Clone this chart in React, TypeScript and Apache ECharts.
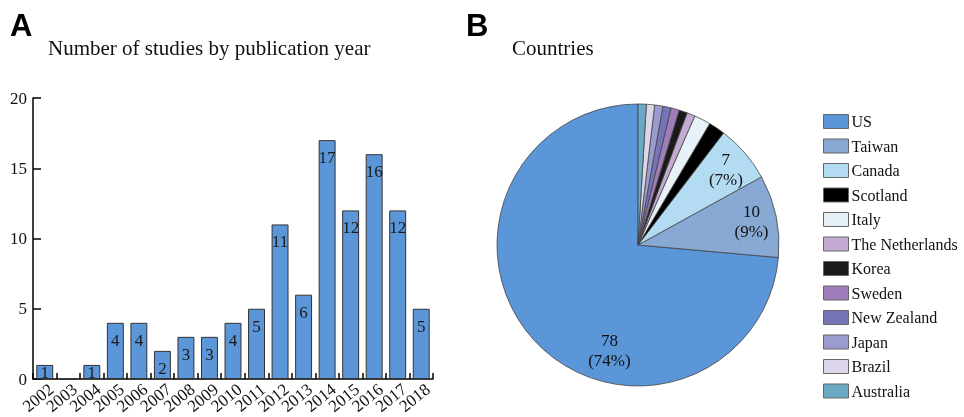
import React, { useEffect, useRef } from "react";
import * as echarts from "echarts";

const years = ["2002","2003","2004","2005","2006","2007","2008","2009","2010","2011","2012","2013","2014","2015","2016","2017","2018"];
const studies = [1,0,1,4,4,2,3,3,4,5,11,6,17,12,16,12,5];
const countries = ["US","Taiwan","Canada","Scotland","Italy","The Netherlands","Korea","Sweden","New Zealand","Japan","Brazil","Australia"];
const countryCounts = [78,10,7,2,2,1,1,1,1,1,1,1];
const countryColors = ["#5b96d8","#87a9d3","#b3dcf2","#000000","#e6f2f8","#c2aad3","#1a1a1a","#a07cba","#7474b6","#9b9bd0","#ddd5ea","#6aa8c4"];
const labelledCount = 3;

const SERIF = "'Liberation Serif', 'Times New Roman', serif";
const SANS = "'Liberation Sans', Arial, sans-serif";

export default function App() {
  const ref = useRef<HTMLDivElement>(null);
  useEffect(() => {
    if (!ref.current) return;
    const chart = echarts.init(ref.current, null, { renderer: "svg" });
    const total = countryCounts.reduce((a, b) => a + b, 0);
    const pieData = countries.map((n, i) => ({
      name: n,
      value: countryCounts[i],
      itemStyle: { color: countryColors[i] },
    }));
    const labelData = countries.map((n, i) => ({
      name: n,
      value: countryCounts[i],
      itemStyle: { color: "rgba(0,0,0,0)" },
      label: { show: i < labelledCount },
    }));
    chart.setOption({
      animation: false,
      title: [
        { text: "A", left: 5, top: 5, textStyle: { fontFamily: SANS, fontWeight: "bold", fontSize: 31, color: "#000" } },
        { text: "Number of studies by publication year", left: 43, top: 32, textStyle: { fontFamily: SERIF, fontWeight: "normal", fontSize: 21, color: "#111" } },
        { text: "B", left: 461, top: 5, textStyle: { fontFamily: SANS, fontWeight: "bold", fontSize: 31, color: "#000" } },
        { text: "Countries", left: 507, top: 32, textStyle: { fontFamily: SERIF, fontWeight: "normal", fontSize: 21, color: "#111" } },
      ],
      legend: {
        data: countries,
        orient: "vertical",
        left: 818,
        top: 108,
        itemWidth: 25,
        itemHeight: 14,
        itemGap: 7.5,
        icon: "rect",
        selectedMode: false,
        itemStyle: { borderColor: "#666", borderWidth: 1 },
        textStyle: { fontFamily: SERIF, fontSize: 16, color: "#111", padding: [0, 0, 0, -2], lineHeight: 17 },
      },
      grid: { left: 33, right: 531, top: 98, bottom: 38, containLabel: false, outerBoundsMode: "none" },
      xAxis: {
        type: "category",
        data: years,
        boundaryGap: true,
        axisLine: { lineStyle: { color: "#000", width: 1.5 } },
        axisTick: { show: true, inside: true, length: 6, lineStyle: { color: "#000", width: 1.5 } },
        axisLabel: {
          rotate: 39,
          interval: 0,
          fontFamily: SERIF,
          fontSize: 17,
          lineHeight: 21,
          color: "#111",
          margin: 0,
          formatter: (v: string) => `\n${v}`,
        },
      },
      yAxis: {
        type: "value",
        min: 0,
        max: 20,
        interval: 5,
        splitLine: { show: false },
        axisLine: { show: true, lineStyle: { color: "#000", width: 1.5 } },
        axisTick: { show: true, inside: true, length: 8, lineStyle: { color: "#000", width: 1.5 } },
        axisLabel: { fontFamily: SERIF, fontSize: 17, color: "#111", margin: 6 },
      },
      series: [
        {
          type: "bar",
          data: studies,
          barCategoryGap: "28%",
          itemStyle: { color: "#5b96d8", borderColor: "#333", borderWidth: 1 },
          label: {
            show: true,
            position: "insideTop",
            distance: 9,
            fontFamily: SERIF,
            fontSize: 17,
            color: "#1a1a1a",
            formatter: (p: any) => (p.value > 0 ? String(p.value) : ""),
          },
          labelLayout: (p: any) => {
            const r = p.rect;
            const lr = p.labelRect;
            if (!r || !lr) return {};
            const maxY = r.y + r.height - lr.height + 2;
            return lr.y > maxY ? { dy: maxY - lr.y } : {};
          },
        },
        {
          type: "pie",
          center: [638, 245],
          radius: 141,
          startAngle: 90,
          clockwise: false,
          data: pieData,
          silent: true,
          itemStyle: { borderColor: "#444", borderWidth: 0.8 },
          label: { show: false },
          labelLine: { show: false },
        },
        {
          type: "pie",
          center: [638, 245],
          radius: [85, 141],
          startAngle: 90,
          clockwise: false,
          data: labelData,
          silent: true,
          label: {
            show: true,
            position: "inside",
            formatter: (p: any) => `${p.value}\n(${Math.round((p.value / total) * 100)}%)`,
            fontFamily: SERIF,
            fontSize: 17,
            lineHeight: 20,
            color: "#111",
          },
          labelLine: { show: false },
          labelLayout: (p: any) => (p.dataIndex === 0 ? { dx: 57, dy: 27 } : {}),
        },
      ],
    });
    return () => chart.dispose();
  }, []);
  return <div ref={ref} style={{ position: "fixed", left: 0, top: 0, width: 964, height: 417 }} />;
}
